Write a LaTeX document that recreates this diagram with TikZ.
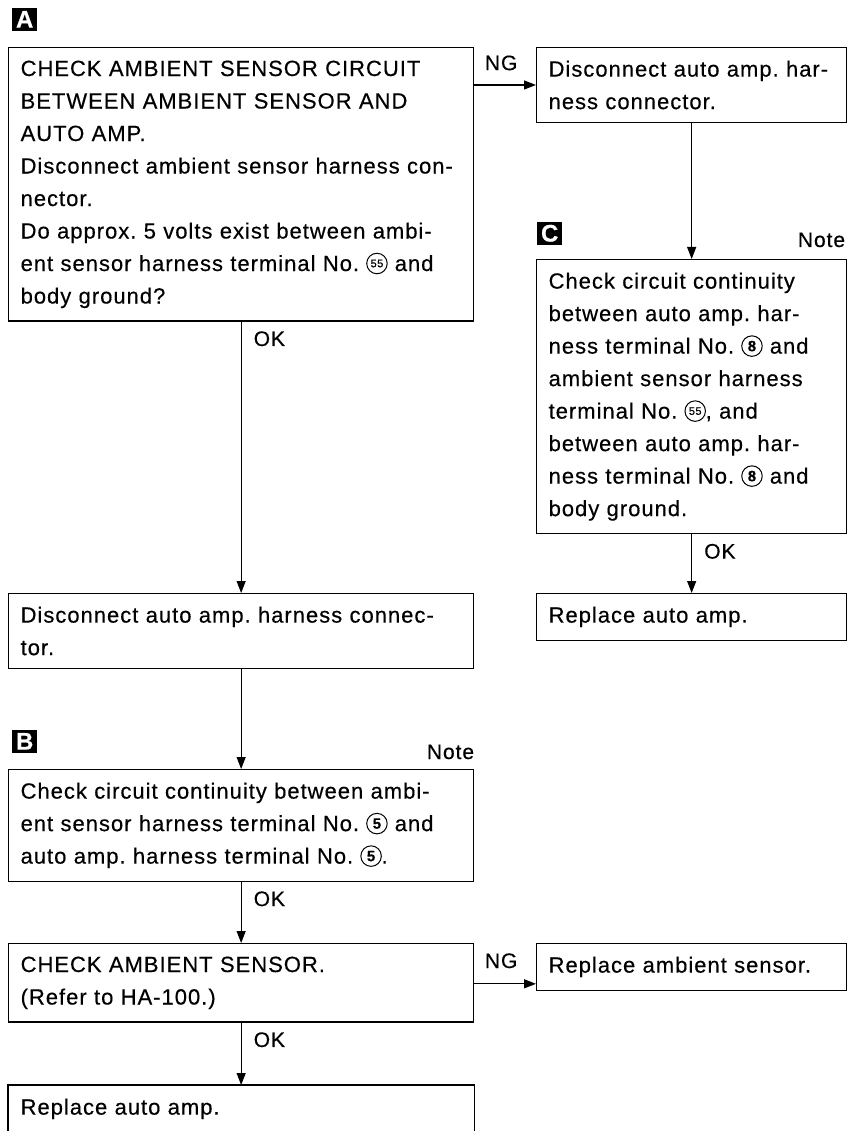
\documentclass[tikz,border=0pt]{standalone}
\usepackage{fontspec}
\setmainfont{Liberation Sans}[LetterSpace=4.5, FakeBold=0.4]
\usepackage{pict2e}
\usetikzlibrary{arrows.meta}
\frenchspacing

% circled terminal numbers
\newcommand{\cnumsym}[2]{\raisebox{-3pt}{\setlength{\unitlength}{1pt}\linethickness{1pt}%
  \begin{picture}(21,21)\put(10.5,10.5){\circle{20.5}}\put(10.5,10.5){\makebox(0,0){#1#2}}\end{picture}}}
\newcommand{\cnum}[1]{\cnumsym{\fontsize{15}{15}\selectfont\bfseries}{#1}}
\newcommand{\cnumsm}[1]{\cnumsym{\fontsize{11}{11}\selectfont}{#1}}
% justified line
\newcommand{\jline}[1]{\makebox[\hsize][s]{#1}}

\begin{document}
\begin{tikzpicture}[x=1pt, y=-1pt,
    box/.style={draw, line width=1.3pt, anchor=north west, inner xsep=12pt, inner ysep=13pt,
      align=left, font=\fontsize{22}{32.5}\selectfont},
    leftbox/.style={box, text width=441pt},
    rightbox/.style={box, text width=286pt},
    tag/.style={fill=black, text=white, inner sep=0pt, minimum width=25pt, minimum height=23pt,
      anchor=south west, font=\fontsize{24}{24}\selectfont\bfseries},
    lbl/.style={inner sep=0pt, font=\fontsize{21}{21}\selectfont},
    flow/.style={line width=1.2pt, -{Triangle[length=12pt,width=9pt]}}]
  \useasboundingbox (0,0) rectangle (853,1131);

  % left column
  \node[leftbox] (chkcirc) at (8,47) {CHECK AMBIENT SENSOR CIRCUIT\\
    BETWEEN AMBIENT SENSOR AND\\
    AUTO AMP.\\
    Disconnect ambient sensor harness con-\\
    nector.\\
    Do approx. 5 volts exist between ambi-\\
    \jline{ent sensor harness terminal No. \cnumsm{55} and}\\
    body ground?};
  \node[leftbox] (dcampL) at (8,593) {Disconnect auto amp. harness connec-\\tor.};
  \node[leftbox] (contB) at (8,769) {Check circuit continuity between ambi-\\
    \jline{ent sensor harness terminal No. \cnum{5} and}\\
    auto amp. harness terminal No. \cnum{5}.};
  \node[leftbox] (chksens) at (8,943) {CHECK AMBIENT SENSOR.\\(Refer to HA-100.)};
  \node[leftbox, draw=none] (repamp) at (8,1085) {Replace auto amp.};
  % last box runs off the page
  \draw[line width=1.3pt] ([yshift=-10pt]repamp.south west) |- (repamp.north)
    -| ([yshift=-10pt]repamp.south east);

  % right column
  \node[rightbox] (dcampR) at (536,47) {Disconnect auto amp. har-\\ness connector.};
  \node[rightbox] (contC) at (536,259) {Check circuit continuity\\
    between auto amp. har-\\
    \jline{ness terminal No. \cnum{8} and}\\
    ambient sensor harness\\
    terminal No. \cnumsm{55}, and\\
    between auto amp. har-\\
    \jline{ness terminal No. \cnum{8} and}\\
    body ground.};
  \node[rightbox] (repampR) at (536,593) {Replace auto amp.};
  \node[rightbox] (repsens) at (536,943) {Replace ambient sensor.};

  % step tags and notes
  \node[tag] (tagA) at ([xshift=4pt,yshift=16pt]chkcirc.north west) {A};
  \node[tag] (tagB) at ([xshift=4pt,yshift=16pt]contB.north west) {B};
  \node[tag] (tagC) at ([xshift=1pt,yshift=14pt]contC.north west) {C};
  \node[lbl, anchor=base east] (noteB) at ([yshift=10pt]contB.north east) {Note};
  \node[lbl, anchor=base east] (noteC) at ([xshift=-2pt,yshift=12pt]contC.north east) {Note};

  % connectors
  \draw[flow] (chkcirc) -- node[lbl, pos=0, anchor=north west, xshift=12pt, yshift=-9pt] {OK} (dcampL);
  \draw[flow] (chkcirc.east |- dcampR.west) -- node[lbl, pos=0, anchor=south west, xshift=10pt, yshift=14pt] {NG} (dcampR.west);
  \draw[flow] (dcampR) -- (contC);
  \draw[flow] (contC) -- node[lbl, pos=0, anchor=north west, xshift=12pt, yshift=-9pt] {OK} (repampR);
  \draw[flow] (dcampL) -- (contB);
  \draw[flow] (contB) -- node[lbl, pos=0, anchor=north west, xshift=12pt, yshift=-9pt] {OK} (chksens);
  \coordinate (ngB) at ([yshift=7pt]repsens.south west);
  \draw[flow] (chksens.east |- ngB) -- node[lbl, pos=0, anchor=south west, xshift=10pt, yshift=15pt] {NG} (ngB);
  \draw[flow] (chksens) -- node[lbl, pos=0, anchor=north west, xshift=12pt, yshift=-9pt] {OK} (repamp);
\end{tikzpicture}
\end{document}
